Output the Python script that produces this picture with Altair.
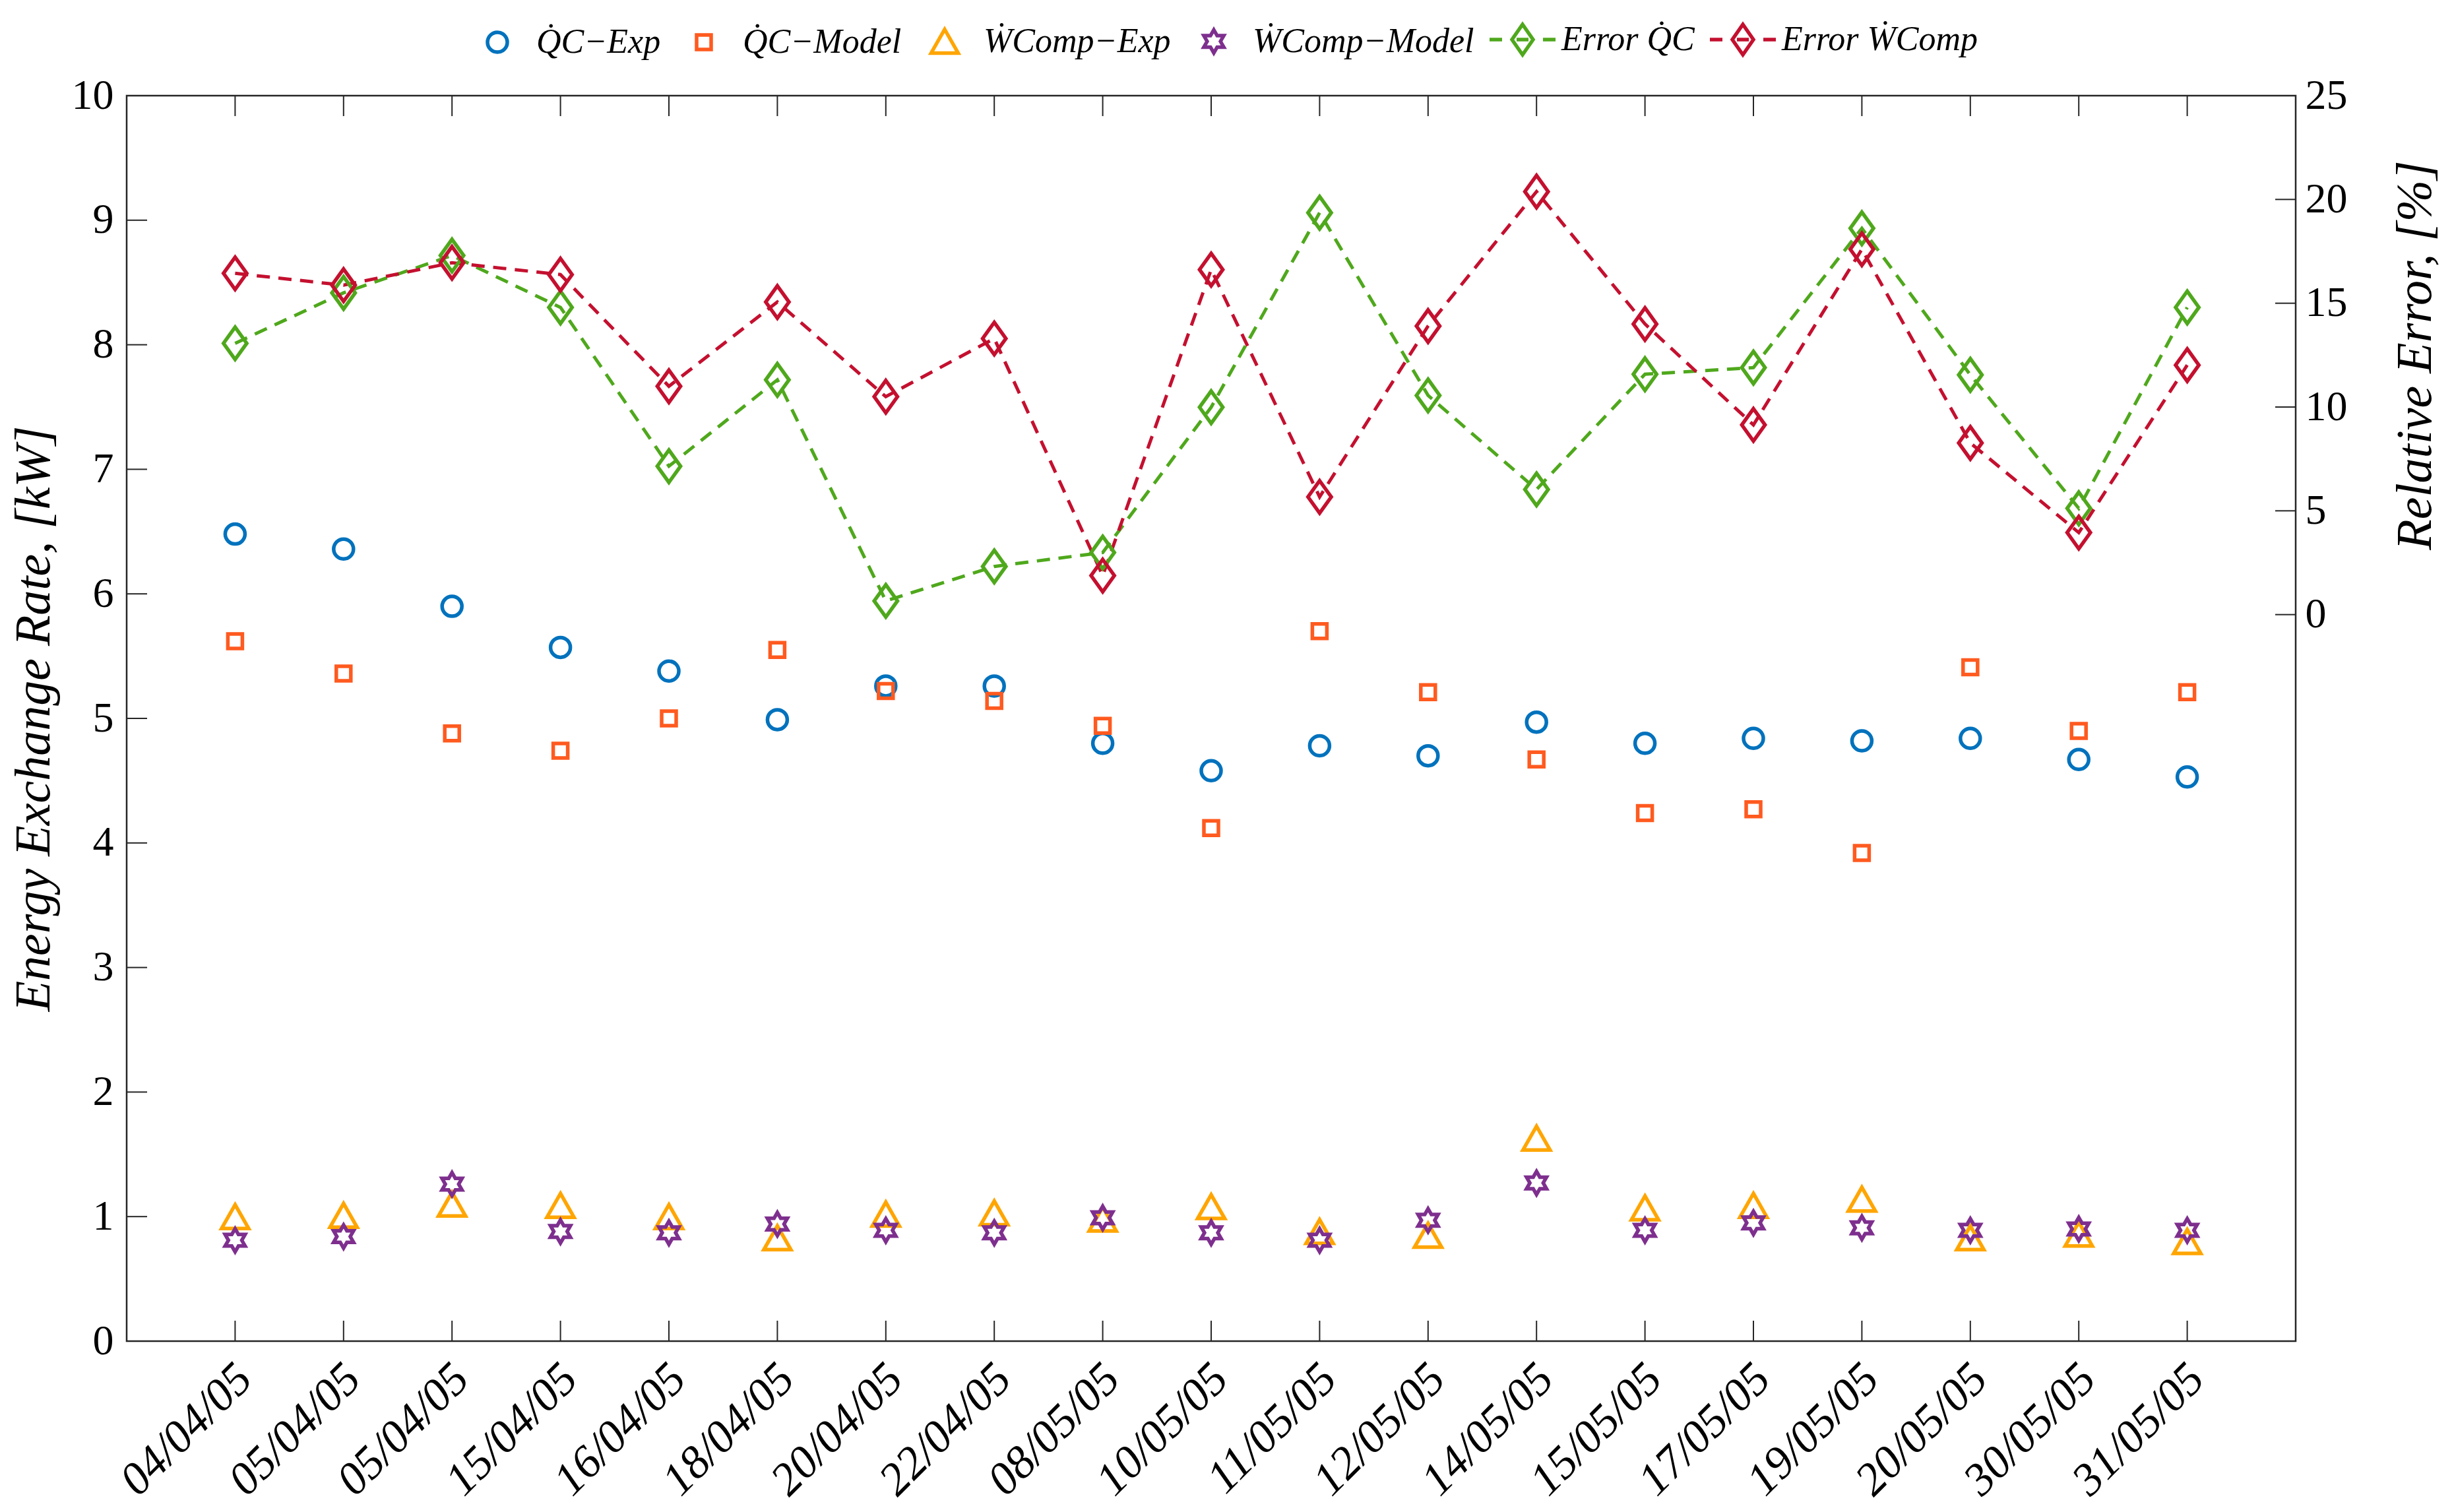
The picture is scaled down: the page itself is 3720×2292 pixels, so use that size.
import json
import altair as alt
import pandas as pd

# ---------------- data ----------------
dates = ["04/04/05", "05/04/05", "05/04/05", "15/04/05", "16/04/05", "18/04/05",
         "20/04/05", "22/04/05", "08/05/05", "10/05/05", "11/05/05", "12/05/05",
         "14/05/05", "15/05/05", "17/05/05", "19/05/05", "20/05/05", "30/05/05",
         "31/05/05"]

series = ["Q\u0307C\u2212Exp", "Q\u0307C\u2212Model", "W\u0307Comp\u2212Exp",
          "W\u0307Comp\u2212Model", "Error Q\u0307C", "Error W\u0307Comp"]

qc_exp = [6.48, 6.36, 5.90, 5.57, 5.38, 4.99, 5.26, 5.26, 4.80, 4.58,
          4.78, 4.70, 4.97, 4.80, 4.84, 4.82, 4.84, 4.67, 4.53]
qc_model = [5.62, 5.36, 4.88, 4.74, 5.00, 5.55, 5.22, 5.14, 4.94, 4.12,
            5.70, 5.21, 4.67, 4.24, 4.27, 3.92, 5.41, 4.90, 5.21]
w_exp = [1.00, 1.01, 1.10, 1.09, 1.00, 0.83, 1.02, 1.03, 0.98, 1.08,
         0.88, 0.85, 1.63, 1.07, 1.09, 1.14, 0.83, 0.86, 0.80]
w_model = [0.81, 0.84, 1.26, 0.88, 0.87, 0.94, 0.89, 0.87, 0.99, 0.87,
           0.81, 0.97, 1.27, 0.89, 0.95, 0.91, 0.89, 0.90, 0.89]
err_qc = [13.07, 15.5, 17.3, 14.8, 7.15, 11.31, 0.66, 2.32, 2.99, 9.99,
          19.36, 10.56, 6.03, 11.58, 11.9, 18.61, 11.55, 5.12, 14.8]
err_w = [16.44, 15.87, 16.95, 16.38, 11.0, 15.06, 10.5, 13.3, 1.88, 16.62,
         5.67, 13.9, 20.38, 14.0, 9.14, 17.6, 8.27, 3.95, 12.02]

x_ticks = list(range(1, 20))
left_ticks = list(range(0, 11))
right_ticks = [0, 5, 10, 15, 20, 25]

# ---------------- tables ----------------
rows = []
for name, vals in zip(series[:4], [qc_exp, qc_model, w_exp, w_model]):
    for i, v in enumerate(vals):
        rows.append({"idx": i + 1, "series": name, "value": v})
scatter_df = pd.DataFrame(rows)

rows = []
for name, vals in zip(series[4:], [err_qc, err_w]):
    for i, v in enumerate(vals):
        rows.append({"idx": i + 1, "series": name, "value": v})
err_df = pd.DataFrame(rows)

# ---------------- styling ----------------
FONT = "Liberation Serif"
W, H, TL = 3288, 1888, 31
AX = "#262626"

colors = ["#0072BD", "#FF5A1F", "#FFA500", "#7E2F8E", "#4FA81C", "#C4102F"]

# all symbol paths share one symbol size (10000 -> 1 unit = 50 px)
CIRCLE = ("M0.3,0C0.3,0.166 0.166,0.3 0,0.3C-0.166,0.3 -0.3,0.166 -0.3,0"
          "C-0.3,-0.166 -0.166,-0.3 0,-0.3C0.166,-0.3 0.3,-0.166 0.3,0Z")
SQUARE = "M-0.22,-0.22L0.22,-0.22L0.22,0.22L-0.22,0.22Z"
TRIANGLE = "M0,-0.36L0.41,0.36L-0.41,0.36Z"
STAR = ("M0,-0.35L0.101,-0.175L0.303,-0.175L0.202,0L0.303,0.175L0.101,0.175L0,0.35"
        "L-0.101,0.175L-0.303,0.175L-0.202,0L-0.303,-0.175L-0.101,-0.175Z")
ERR_LEG = ("M-1,0L-0.62,0M-0.18,0L0.18,0M0.62,0L1,0"
           "M0,-0.46L0.32,0L0,0.46L-0.32,0Z")
DIAMOND = "M0,-1L0.72,0L0,1L-0.72,0Z"
shapes = [CIRCLE, SQUARE, TRIANGLE, STAR, ERR_LEG, ERR_LEG]
SYM = 10000
SW = 5.5

color_scale = alt.Scale(domain=series, range=colors)
shape_scale = alt.Scale(domain=series, range=shapes)
x_scale = alt.Scale(domain=[0, 20], nice=False, zero=False)
yl_scale = alt.Scale(domain=[0, 10], nice=False)
yr_scale = alt.Scale(domain=[-35, 25], nice=False)

legend = alt.Legend(
    title=None, orient="none", direction="horizontal",
    legendX=509, legendY=-138,
    labelFont=FONT, labelFontSize=52, labelFontStyle="italic", labelColor="black",
    labelLimit=2000, labelOffset=6, columnPadding=12,
    symbolSize=SYM, symbolStrokeWidth=SW, symbolOpacity=1,
)

label_expr = json.dumps(dates) + "[datum.value - 1]"

x_axis = alt.Axis(
    values=x_ticks, labelExpr=label_expr, title=None,
    labelAngle=315, labelAlign="right", labelBaseline="middle",
    labelPadding=46, labelOffset=14, labelFontSize=70, labelFontStyle="italic",
    labelOverlap=False, labelFlush=False, labelLimit=2000,
    labelFont=FONT, labelColor="black",
    domain=False, ticks=False, grid=False,
)

left_axis = alt.Axis(
    orient="left", values=left_ticks, title="Energy Exchange Rate, [kW]",
    labelFont=FONT, titleFont=FONT, labelColor="black", titleColor="black",
    labelFontSize=64, labelPadding=20, titleFontSize=76,
    titleFontStyle="italic", titleFontWeight="normal", titlePadding=18,
    domain=False, ticks=False, grid=False,
)

right_axis = alt.Axis(
    orient="right", values=right_ticks, title="Relative Error, [%]",
    labelFont=FONT, titleFont=FONT, labelColor="black", titleColor="black",
    labelFontSize=64, labelPadding=14, titleFontSize=76,
    titleFontStyle="italic", titleFontWeight="normal",
    titleAngle=270, titlePadding=142, titleY=393,
    domain=False, ticks=False, grid=False,
)

scatter = alt.Chart(scatter_df).mark_point(
    filled=False, strokeWidth=SW, opacity=1, size=SYM).encode(
    x=alt.X("idx:Q", scale=x_scale, axis=x_axis),
    y=alt.Y("value:Q", scale=yl_scale, axis=left_axis),
    color=alt.Color("series:N", scale=color_scale, legend=legend),
    shape=alt.Shape("series:N", scale=shape_scale, legend=legend),
)

lines = alt.Chart(err_df).mark_line(strokeDash=[20, 13], strokeWidth=5).encode(
    x=alt.X("idx:Q", scale=x_scale, axis=x_axis),
    y=alt.Y("value:Q", scale=yr_scale, axis=right_axis),
    color=alt.Color("series:N", scale=color_scale, legend=None),
)
diamonds = alt.Chart(err_df).mark_point(
    shape=DIAMOND, size=2400, filled=False, strokeWidth=SW, opacity=1).encode(
    x=alt.X("idx:Q", scale=x_scale, axis=x_axis),
    y=alt.Y("value:Q", scale=yr_scale, axis=None),
    color=alt.Color("series:N", scale=color_scale, legend=None),
)

tick_x_df = pd.DataFrame({"idx": x_ticks})
tick_l_df = pd.DataFrame({"t": left_ticks})
tick_r_df = pd.DataFrame({"t": right_ticks})

xbot = alt.Chart(tick_x_df).mark_rule(color=AX, strokeWidth=2).encode(
    x=alt.X("idx:Q", scale=x_scale, axis=x_axis),
    y=alt.value(H), y2=alt.value(H - TL))
xtop = alt.Chart(tick_x_df).mark_rule(color=AX, strokeWidth=2).encode(
    x=alt.X("idx:Q", scale=x_scale, axis=x_axis),
    y=alt.value(0), y2=alt.value(TL))
yl = alt.Chart(tick_l_df).mark_rule(color=AX, strokeWidth=2).encode(
    y=alt.Y("t:Q", scale=yl_scale, axis=None),
    x=alt.value(0), x2=alt.value(TL))
yr = alt.Chart(tick_r_df).mark_rule(color=AX, strokeWidth=2).encode(
    y=alt.Y("t:Q", scale=yr_scale, axis=None),
    x=alt.value(W), x2=alt.value(W - TL))

chart = alt.layer(scatter, lines, diamonds, xbot, xtop, yl, yr).resolve_scale(
    y="independent"
).properties(
    width=W, height=H,
    autosize=alt.AutoSizeParams(type="none"),
    padding={"left": 184, "top": 137, "right": 232, "bottom": 251},
).configure_view(
    stroke=AX, strokeWidth=2.5
)

chart.save("out.html", embed_options={"renderer": "svg", "actions": False})
